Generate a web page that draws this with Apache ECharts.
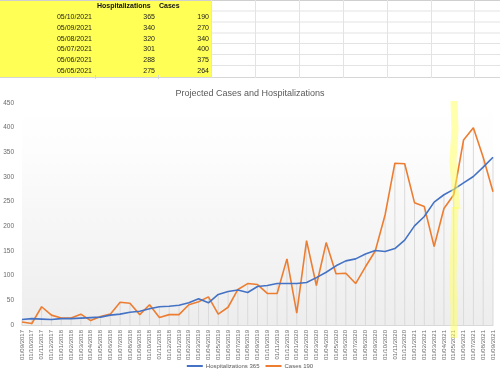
<!DOCTYPE html>
<html lang="en" style="height: 100%">
<head>
<meta charset="utf-8">
<title>Projected Cases and Hospitalizations</title>
</head>
<body style="height: 100%; margin: 0">
<div id="container" style="height: 100%"></div>

<script type="text/javascript" src="https://cdn.jsdelivr.net/npm/echarts/dist/echarts.min.js"></script>

<script type="text/javascript">

var months = [
  '01/09/2017', '01/10/2017', '01/11/2017', '01/12/2017',
  '01/01/2018', '01/02/2018', '01/03/2018', '01/04/2018', '01/05/2018', '01/06/2018',
  '01/07/2018', '01/08/2018', '01/09/2018', '01/10/2018', '01/11/2018', '01/12/2018',
  '01/01/2019', '01/02/2019', '01/03/2019', '01/04/2019', '01/05/2019', '01/06/2019',
  '01/07/2019', '01/08/2019', '01/09/2019', '01/10/2019', '01/11/2019', '01/12/2019',
  '01/01/2020', '01/02/2020', '01/03/2020', '01/04/2020', '01/05/2020', '01/06/2020',
  '01/07/2020', '01/08/2020', '01/09/2020', '01/10/2020', '01/11/2020', '01/12/2020',
  '01/01/2021', '01/02/2021', '01/03/2021', '01/04/2021', '01/05/2021', '01/06/2021',
  '01/07/2021', '01/08/2021', '01/09/2021'
];

var hospitalizations = [
  11, 13, 12, 11, 13, 13, 14, 15, 16, 20, 22, 26, 28, 33, 37, 38,
  40, 45, 53, 45, 62, 68, 71, 66, 78, 80, 84, 84, 84, 86, 96, 107,
  120, 130, 134, 144, 151, 149, 155, 172, 201, 220, 249, 264, 275, 288,
  301, 320, 340
];

var cases = [
  6, 3, 37, 20, 14, 14, 22, 9, 17, 22, 46, 44, 21, 41, 15, 21,
  21, 41, 47, 57, 22, 36, 72, 84, 82, 64, 64, 134, 24, 171, 80, 167,
  104, 105, 84, 118, 150, 223, 328, 327, 248, 240, 159, 236, 264, 375,
  400, 340, 270
];

// the spreadsheet cells above the chart
var tableDates = ['05/10/2021', '05/09/2021', '05/08/2021', '05/07/2021', '05/06/2021', '05/05/2021'];
var tableHosp = [365, 340, 320, 301, 288, 275];
var tableCases = [190, 270, 340, 400, 375, 264];

// drop lines reach up to the higher of the two series
var dropLines = hospitalizations.map(function (h, i) {
  return Math.max(h, cases[i]);
});

var dom = document.getElementById('container');
var myChart = echarts.init(dom);

var cellFont = '7px "Liberation Sans", Arial, sans-serif';
var boldFont = 'bold 7px "Liberation Sans", Arial, sans-serif';
var gridColor = '#e3e3e3';

var graphics = [
  {type: 'rect', shape: {x: 0, y: 0, width: 211, height: 77}, style: {fill: '#ffff55'}, silent: true},
  {type: 'line', shape: {x1: 0, y1: 0.5, x2: 500, y2: 0.5}, style: {stroke: '#cfcfcf', lineWidth: 1}, silent: true},
  {type: 'line', shape: {x1: 0, y1: 77.5, x2: 500, y2: 77.5}, style: {stroke: '#d6d6d6', lineWidth: 1}, silent: true},
  {type: 'text', x: 97, y: 6, style: {text: 'Hospitalizations', font: boldFont, fill: '#111', verticalAlign: 'middle'}, silent: true},
  {type: 'text', x: 159, y: 6, style: {text: 'Cases', font: boldFont, fill: '#111', verticalAlign: 'middle'}, silent: true}
];

[11, 22, 33, 43.5, 54.5, 65.5].forEach(function (y) {
  graphics.push({type: 'line', shape: {x1: 211, y1: y, x2: 500, y2: y}, style: {stroke: gridColor, lineWidth: 1}, silent: true});
});
[211.5, 255.5, 299.5, 343.5, 387.5, 431.5, 474.5].forEach(function (x) {
  graphics.push({type: 'line', shape: {x1: x, y1: 0, x2: x, y2: 78}, style: {stroke: gridColor, lineWidth: 1}, silent: true});
});
[95.5, 158.5].forEach(function (x) {
  graphics.push({type: 'line', shape: {x1: x, y1: 75, x2: x, y2: 79}, style: {stroke: '#d6d6d6', lineWidth: 1}, silent: true});
});

tableDates.forEach(function (d, i) {
  var y = 17.3 + i * 10.75;
  graphics.push({type: 'text', x: 92, y: y, style: {text: d, font: cellFont, fill: '#222', align: 'right', verticalAlign: 'middle'}, silent: true});
  graphics.push({type: 'text', x: 155, y: y, style: {text: String(tableHosp[i]), font: cellFont, fill: '#222', align: 'right', verticalAlign: 'middle'}, silent: true});
  graphics.push({type: 'text', x: 209, y: y, style: {text: String(tableCases[i]), font: cellFont, fill: '#222', align: 'right', verticalAlign: 'middle'}, silent: true});
});

// highlighter stroke
var marker = {stroke: 'rgba(255, 255, 90, 0.5)', lineWidth: 7, fill: null};
graphics.push({type: 'polyline', z: 100, shape: {points: [[454, 101], [455, 130], [453, 160], [455, 190], [457, 209]]}, style: marker, silent: true});
graphics.push({type: 'polyline', z: 100, shape: {points: [[455, 207], [454, 240], [453, 280], [454, 310], [454, 338]]}, style: marker, silent: true});

var option = {
  animation: false,
  textStyle: {fontFamily: '"Liberation Sans", Arial, sans-serif'},
  title: {
    text: 'Projected Cases and Hospitalizations',
    left: 'center',
    top: 84,
    textStyle: {fontSize: 9, fontWeight: 'normal', color: '#595959'}
  },
  legend: {
    data: ['Hospitalizations 365', 'Cases 190'],
    bottom: 1,
    left: 'center',
    icon: 'rect',
    itemWidth: 16,
    itemHeight: 2,
    itemGap: 6,
    textStyle: {fontSize: 6, color: '#595959', padding: [0, 0, 0, -2]}
  },
  grid: {
    left: 22,
    right: 7,
    top: 103,
    bottom: 50,
    show: true,
    borderWidth: 0,
    backgroundColor: {
      type: 'linear', x: 0, y: 0, x2: 0, y2: 1,
      colorStops: [
        {offset: 0, color: '#ffffff'},
        {offset: 0.2, color: '#fdfdfd'},
        {offset: 1, color: '#ededed'}
      ]
    }
  },
  xAxis: {
    type: 'category',
    data: months,
    boundaryGap: false,
    axisLine: {lineStyle: {color: '#d9d9d9'}},
    axisTick: {show: false},
    axisLabel: {interval: 0, rotate: 90, fontSize: 6, color: '#6a6a6a', margin: 5}
  },
  yAxis: {
    type: 'value',
    min: 0,
    max: 450,
    interval: 50,
    axisLine: {show: false},
    axisTick: {show: false},
    splitLine: {show: false},
    axisLabel: {fontSize: 6.5, color: '#6a6a6a', margin: 8}
  },
  series: [
    {
      name: 'drop',
      type: 'bar',
      data: dropLines,
      barWidth: 1,
      silent: true,
      z: 1,
      itemStyle: {color: '#dadada'}
    },
    {
      name: 'Hospitalizations 365',
      type: 'line',
      data: hospitalizations,
      showSymbol: false,
      z: 3,
      lineStyle: {color: '#4472c4', width: 1.6},
      itemStyle: {color: '#4472c4'}
    },
    {
      name: 'Cases 190',
      type: 'line',
      data: cases,
      showSymbol: false,
      z: 2,
      lineStyle: {color: '#ed7d31', width: 1.6},
      itemStyle: {color: '#ed7d31'}
    }
  ],
  graphic: graphics
};

myChart.setOption(option);

window.addEventListener('resize', myChart.resize);
</script>
</body>
</html>
